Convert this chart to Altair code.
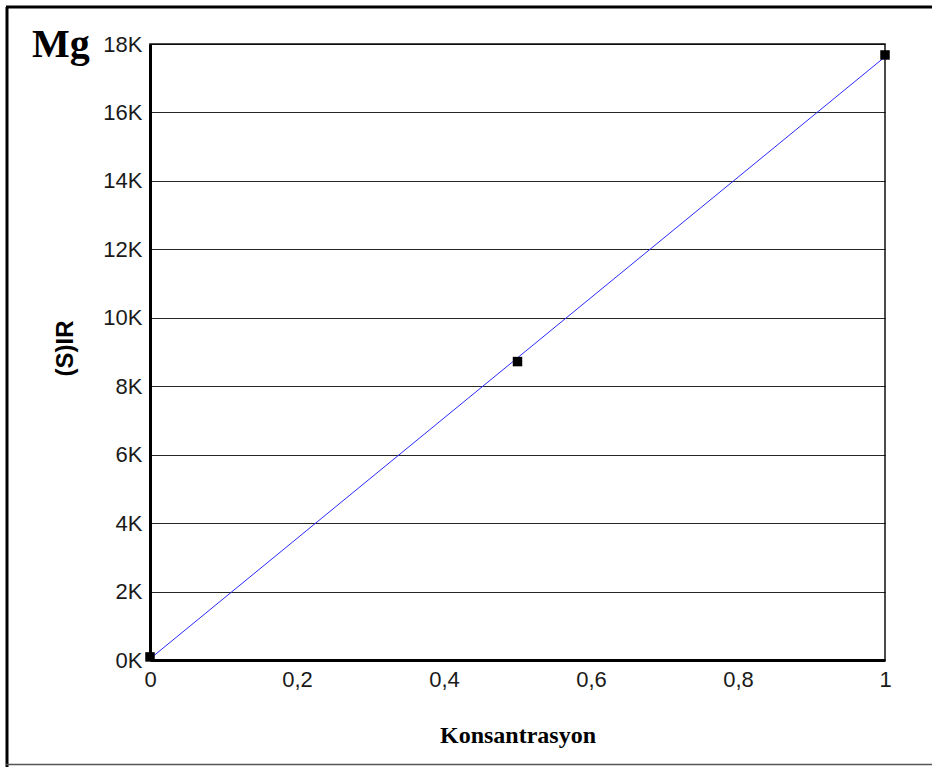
import altair as alt
import pandas as pd

# Calibration points: concentration vs. intensity
konsantrasyon = [0.0, 0.5, 1.0]
intensity = [90, 8720, 17680]

x_ticks = [0, 0.2, 0.4, 0.6, 0.8, 1]
y_ticks = [0, 2000, 4000, 6000, 8000, 10000, 12000, 14000, 16000, 18000]

df = pd.DataFrame({"Konsantrasyon": konsantrasyon, "IR": intensity})

W, H = 735, 616

x_enc = alt.X(
    "Konsantrasyon:Q",
    scale=alt.Scale(domain=[0, 1], nice=False, zero=True),
    axis=alt.Axis(
        values=x_ticks,
        labelExpr="replace(format(datum.value, '~g'), '.', ',')",
        title="Konsantrasyon",
        titleFont="Liberation Serif",
        titleFontSize=24,
        titleFontWeight="bold",
        titleColor="#000000",
        titleBaseline="alphabetic",
        titleY=82,
        grid=False,
        ticks=False,
        labelFlush=False,
        labelPadding=9,
        labelFont="Liberation Sans",
        labelFontSize=22,
        labelColor="#1a1a1a",
        domainColor="#000000",
        domainWidth=3,
    ),
)

y_enc = alt.Y(
    "IR:Q",
    scale=alt.Scale(domain=[0, 18000], nice=False),
    axis=alt.Axis(
        values=y_ticks,
        labelExpr="datum.value / 1000 + 'K'",
        title="(S)IR",
        titleFont="Liberation Sans",
        titleFontSize=24,
        titleFontWeight="bold",
        titleColor="#000000",
        titleAngle=270,
        titleAlign="center",
        titleBaseline="middle",
        titleX=-85,
        titleY=304,
        grid=True,
        gridColor="#000000",
        gridWidth=1,
        gridOpacity=0.85,
        ticks=False,
        labelFlush=False,
        labelPadding=8,
        labelFont="Liberation Sans",
        labelFontSize=22,
        labelColor="#1a1a1a",
        domainColor="#000000",
        domainWidth=3,
    ),
)

base = alt.Chart(df)

fit = (
    base.transform_regression("Konsantrasyon", "IR", extent=[0, 1])
    .mark_line(color="#2a2aff", strokeWidth=1)
    .encode(x=x_enc, y=y_enc)
)

points = base.mark_square(color="#000000", size=90, opacity=1).encode(
    x=x_enc, y=y_enc
)

element_label = alt.Chart(pd.DataFrame({"t": ["Mg"]})).mark_text(
    font="Liberation Serif",
    fontSize=40,
    fontWeight="bold",
    align="left",
    baseline="alphabetic",
    color="#000000",
).encode(text="t:N", x=alt.value(-118), y=alt.value(13))

# Outer frame around the figure
frame_left = alt.Chart(pd.DataFrame({"a": [0]})).mark_rule(
    color="#000000", strokeWidth=3
).encode(x=alt.value(-143), y=alt.value(-37), y2=alt.value(740))
frame_top = alt.Chart(pd.DataFrame({"a": [0]})).mark_rule(
    color="#000000", strokeWidth=3
).encode(x=alt.value(-144), x2=alt.value(W + 50), y=alt.value(-37))
frame_bottom = alt.Chart(pd.DataFrame({"a": [0]})).mark_rule(
    color="#555555", strokeWidth=1.5
).encode(x=alt.value(-144), x2=alt.value(W + 50), y=alt.value(720.5))

chart = (
    alt.layer(fit, points, element_label, frame_left, frame_top, frame_bottom)
    .properties(
        width=W,
        height=H,
        padding={"left": 150, "top": 44, "right": 47, "bottom": 107},
        autosize=alt.AutoSizeParams(type="none"),
        background="#ffffff",
    )
    .configure_view(stroke="#111111", strokeWidth=1.5)
)

chart.save("out.html", embed_options={"renderer": "svg", "actions": False})
